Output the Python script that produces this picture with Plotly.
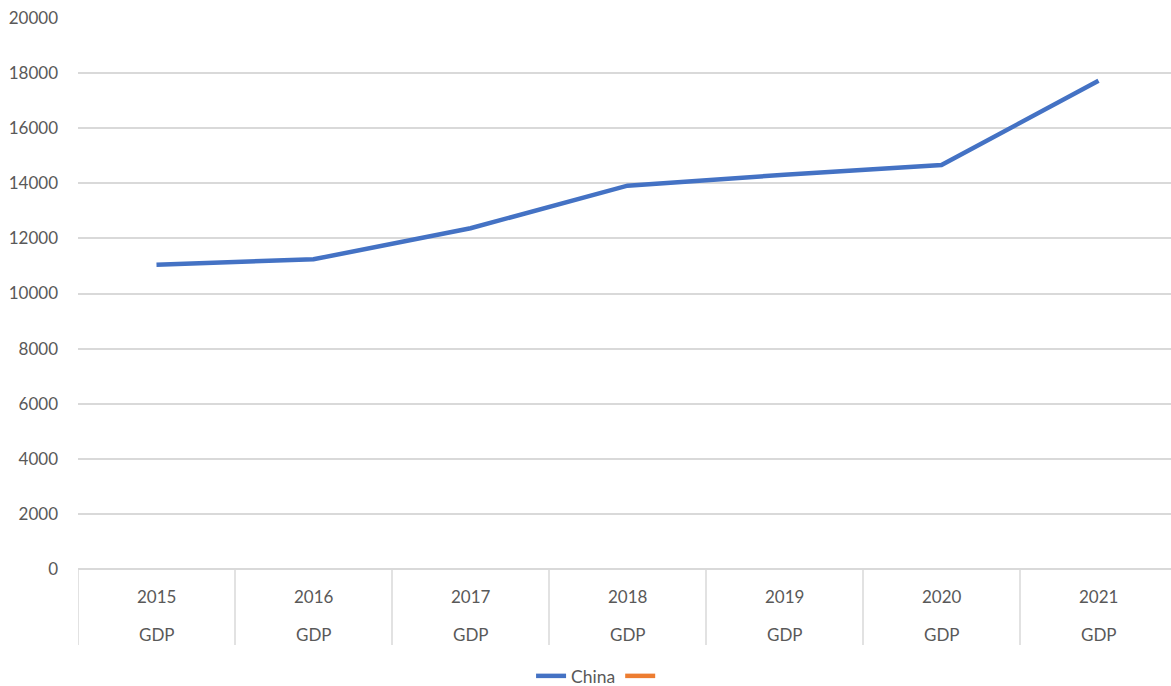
import plotly.graph_objects as go

years = ["2015", "2016", "2017", "2018", "2019", "2020", "2021"]
level2 = ["GDP"] * 7
china = [11046, 11241, 12370, 13913, 14310, 14664, 17724]
series2 = [None] * 7
yticks = list(range(0, 20001, 2000))

FONT = "Lato"
TXT = "#595959"
GRID = "#d9d9d9"
FS = 17

xs = list(range(len(years)))
fig = go.Figure()
fig.add_trace(go.Scatter(x=xs, y=china, mode="lines", name="China",
                         line=dict(color="#4472C4", width=4.5)))
fig.add_trace(go.Scatter(x=xs, y=series2, mode="lines", name="  ",
                         line=dict(color="#ED7D31", width=4.5)))

# category labels and separators
for i, (a, b) in enumerate(zip(years, level2)):
    fig.add_annotation(x=i, y=0, xref="x", yref="paper", text=a, showarrow=False,
                       yanchor="middle", yshift=-27,
                       font=dict(family=FONT, size=FS, color=TXT))
    fig.add_annotation(x=i, y=0, xref="x", yref="paper", text=b, showarrow=False,
                       yanchor="middle", yshift=-65,
                       font=dict(family=FONT, size=FS, color=TXT))
for k in range(len(years) + 1):
    fig.add_shape(type="line", xref="x", yref="paper", x0=k - 0.5, x1=k - 0.5,
                  y0=0, y1=-76 / 551, line=dict(color=GRID, width=1.5))

fig.update_layout(
    width=1171, height=686,
    margin=dict(l=78, r=0, t=18, b=117),
    paper_bgcolor="white", plot_bgcolor="white",
    font=dict(family=FONT, size=FS, color=TXT),
    showlegend=True,
    legend=dict(orientation="h", xref="container", x=0.515, xanchor="center",
                yref="container", y=10 / 686, yanchor="middle",
                font=dict(family=FONT, size=17.5, color=TXT)),
    xaxis=dict(range=[-0.5, -0.5 + 1093 / 157], showticklabels=False, showgrid=False,
               zeroline=False, showline=False, fixedrange=True),
    yaxis=dict(range=[0, 20000], tickvals=yticks, ticktext=[str(v) for v in yticks],
               showgrid=True, gridcolor=GRID, gridwidth=1.5, zeroline=True,
               zerolinecolor=GRID, zerolinewidth=1.5, ticklabelstandoff=19,
               tickfont=dict(family=FONT, size=FS, color=TXT)),
)

post = ("document.body.style.margin='0';document.body.style.overflow='hidden';"
        "var gd=document.getElementById('{plot_id}');"
        "Plotly.relayout(gd,{width:1171,height:686});")
fig.write_html("out.html", post_script=post,
               config={"responsive": False, "displayModeBar": False})
